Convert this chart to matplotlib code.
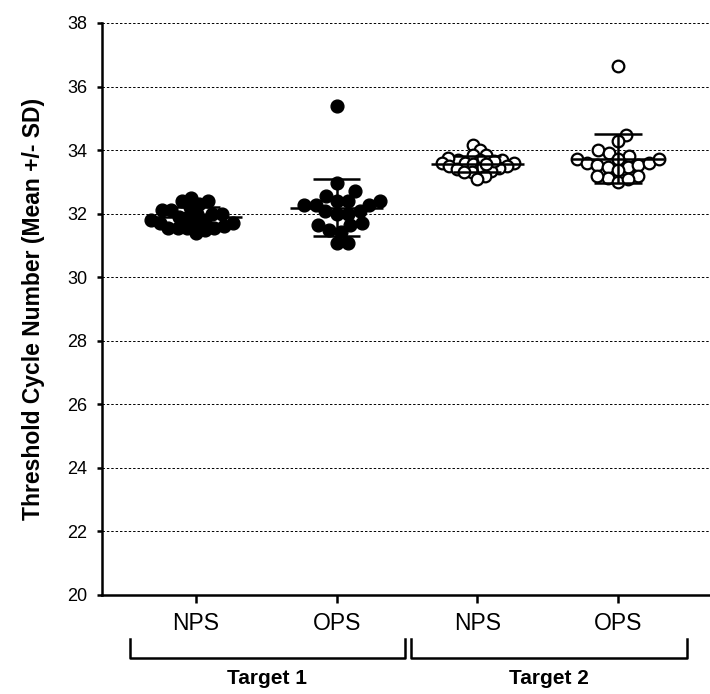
import numpy as np
import matplotlib
matplotlib.use('Agg')
import matplotlib.pyplot as plt
from matplotlib.lines import Line2D

plt.rcParams['font.family'] = ['Liberation Sans', 'DejaVu Sans']

# data (threshold cycle numbers)
groups = ['NPS', 'OPS', 'NPS', 'OPS']
targets = ['Target 1', 'Target 2']
t1_nps = [32.4, 32.3, 32.5, 32.4, 32.2, 32.1, 32.0, 32.0, 32.1, 31.9, 31.8, 31.7,
          31.55, 31.55, 31.6, 31.4, 31.5, 31.7, 31.55, 31.55, 31.7, 31.8, 31.9, 32.0]
t1_ops = [35.4, 32.96, 32.7, 32.56, 32.41, 32.41, 32.41, 32.28, 32.28, 32.28,
          31.99, 31.99, 32.07, 32.07, 31.63, 31.63, 31.69, 31.42, 31.5, 31.08, 31.08]
t2_nps = [34.15, 34.0, 33.85, 33.85, 33.7, 33.7, 33.7, 33.75, 33.6, 33.6, 33.6, 33.55,
          33.5, 33.5, 33.45, 33.4, 33.4, 33.35, 33.3, 33.3, 33.2, 33.1, 33.65, 33.55]
t2_ops = [36.66, 34.49, 34.28, 34.0, 33.9, 33.81, 33.71, 33.58, 33.53, 33.48, 33.48,
          33.53, 33.58, 33.71, 33.71, 33.375, 33.19, 33.11, 32.98, 33.08, 33.19]
series = [t1_nps, t1_ops, t2_nps, t2_ops]
filled = [True, True, False, False]
spacing = [9.5, 11.5, 8.0, 10.5]  # min distance between dots, px

fig = plt.figure(figsize=(7.1, 6.94), dpi=100)
ax = fig.add_axes([0.1432, 0.1427, 0.8568, 0.8242])
ax.set_xlim(0.33, 4.655)
ax.set_ylim(20, 38)

# pixel scale of the axes, used for the scatter layout
p0 = ax.transData.transform((0, 20))
p1 = ax.transData.transform((1, 21))
px_x = p1[0] - p0[0]
px_y = p1[1] - p0[1]


def swarm(vals, d):
    # simple beeswarm, points may overlap a little (as in GraphPad)
    ys = (np.asarray(vals) - 20) * px_y
    offs = np.zeros(len(vals))
    placed = []
    cands = [0.0]
    for s in np.arange(0.5, 120, 0.5):
        cands += [s, -s]
    for i in np.argsort(ys):
        for c in cands:
            if all((c - px) ** 2 + (ys[i] - py) ** 2 >= d * d for px, py in placed):
                break
        placed.append((c, ys[i]))
        offs[i] = c
    return offs / px_x


for k, vals in enumerate(series):
    xpos = k + 1
    xs = xpos + swarm(vals, spacing[k])
    if filled[k]:
        ax.plot(xs, vals, 'o', ms=9.2, color='black', mec='black', ls='none', zorder=3)
    else:
        ax.plot(xs, vals, 'o', ms=8.4, mfc='white', mec='black', mew=1.6, ls='none', zorder=3)
    m = np.mean(vals)
    sd = np.std(vals, ddof=1)
    ax.hlines(m, xpos - 0.33, xpos + 0.33, color='black', lw=1.8, zorder=4)
    ax.hlines([m - sd, m + sd], xpos - 0.17, xpos + 0.17, color='black', lw=1.8, zorder=4)
    ax.vlines(xpos, m - sd, m + sd, color='black', lw=1.8, zorder=4)

ax.set_yticks(np.arange(20, 39, 2))
for yv in np.arange(22, 39, 2):
    ax.axhline(yv, color='black', lw=0.7, ls=(0, (2.5, 2)), zorder=1)
ax.set_xticks([1, 2, 3, 4])
ax.set_xticklabels(groups, fontsize=16.5)
ax.tick_params(axis='y', labelsize=13, length=3.5, width=1.8, pad=7)
ax.tick_params(axis='x', length=6, width=1.8, pad=6)
for s in ['top', 'right']:
    ax.spines[s].set_visible(False)
for s in ['left', 'bottom']:
    ax.spines[s].set_linewidth(1.8)

ax.set_ylabel('Threshold Cycle Number (Mean +/- SD)', fontsize=16.5, fontweight='bold', labelpad=16)

# group brackets under the axis
tr = ax.get_xaxis_transform()
brackets = [(0.531, 2.485), (2.528, 4.49)]
for (a, b), name in zip(brackets, targets):
    ax.add_line(Line2D([a, a, b, b], [-0.077, -0.11, -0.11, -0.077], transform=tr,
                       color='black', lw=1.8, clip_on=False))
    ax.text((a + b) / 2, -0.146, name, transform=tr, ha='center', va='center',
            fontsize=15, fontweight='bold')

fig.savefig('out.png', dpi=100)
